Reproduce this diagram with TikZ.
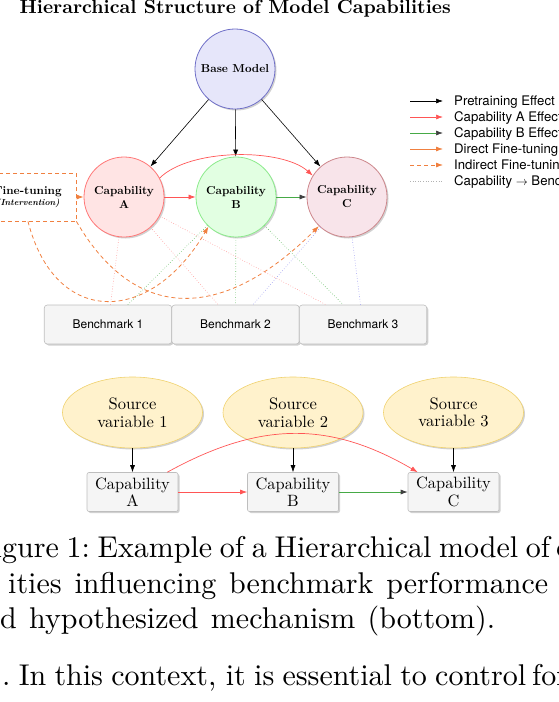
\documentclass[tikz,border=0pt]{standalone}
\usepackage{fontspec}
\setmainfont{lmroman10-regular.otf}[BoldFont=lmroman10-bold.otf,ItalicFont=lmroman10-italic.otf,BoldItalicFont=lmroman10-bolditalic.otf]
\setsansfont{TeX Gyre Heros}
\usetikzlibrary{arrows.meta,shadows,shapes.geometric,calc}
\definecolor{basefill}{RGB}{230,230,250}
\definecolor{basedraw}{RGB}{112,112,200}
\definecolor{afill}{RGB}{255,228,228}
\definecolor{adraw}{RGB}{255,120,120}
\definecolor{bfill}{RGB}{226,255,226}
\definecolor{bdraw}{RGB}{140,235,140}
\definecolor{cfill}{RGB}{248,228,234}
\definecolor{cdraw}{RGB}{205,135,140}
\definecolor{redarr}{RGB}{255,85,85}
\definecolor{greenarr}{RGB}{70,170,70}
\definecolor{orangearr}{RGB}{240,128,64}
\definecolor{benchfill}{RGB}{245,245,245}
\definecolor{benchdraw}{RGB}{190,190,190}
\definecolor{srcfill}{RGB}{255,242,204}
\definecolor{srcdraw}{RGB}{240,210,110}
\definecolor{dotA}{RGB}{255,150,150}
\definecolor{dotB}{RGB}{100,190,100}
\definecolor{dotC}{RGB}{150,150,240}
\begin{document}
\begin{tikzpicture}[x=1pt,y=-1pt,
  shadowed/.style={drop shadow={shadow xshift=1.5pt,shadow yshift=-1.5pt,opacity=0.3,fill=black!60}},
  capnode/.style={circle,minimum size=80pt,inner sep=0pt,line width=0.8pt,align=center,
    font=\fontsize{11.5}{14}\selectfont\bfseries,shadowed},
  bench/.style={rectangle,rounded corners=3pt,minimum width=127.5pt,minimum height=39pt,inner sep=0pt,
    fill=benchfill,draw=benchdraw,line width=0.6pt,font=\sffamily\fontsize{12}{14}\selectfont,shadowed},
  src/.style={ellipse,minimum width=140pt,minimum height=71pt,inner sep=0pt,fill=srcfill,draw=srcdraw,
    line width=0.6pt,align=center,font=\fontsize{16.5}{17.7}\selectfont,shadowed},
  capbox/.style={rectangle,rounded corners=2pt,minimum width=91pt,minimum height=39pt,inner sep=0pt,
    fill=benchfill,draw=benchdraw,line width=0.6pt,align=center,font=\fontsize{16.4}{17.4}\selectfont,shadowed},
  pre/.style={-{Latex[length=7pt,width=5pt]},draw=black,line width=0.6pt},
  reda/.style={-{Latex[length=7pt,width=5pt]},draw=redarr,line width=0.7pt},
  greena/.style={-{Latex[length=7pt,width=5pt,color=black!75]},draw=greenarr,line width=0.7pt},
  orangea/.style={-{Latex[length=7pt,width=5pt]},draw=orangearr,line width=0.8pt},
  orangedash/.style={orangea,dash pattern=on 4pt off 3pt},
  dotl/.style={dotted,line width=0.6pt},
  legtext/.style={anchor=base west,inner sep=0pt,font=\sffamily\fontsize{13.2}{15}\selectfont},
  captext/.style={anchor=base west,inner sep=0pt,font=\fontsize{30}{35}\selectfont}
]
\useasboundingbox (0,0) rectangle (559,702);

% title
\node[anchor=base west,inner sep=0pt,font=\fontsize{19.2}{22}\selectfont\bfseries] (title) at (19.5,13.5)
  {Hierarchical Structure of Model Capabilities};

% benchmarks
\node[bench] (b1) at (108,324.5) {Benchmark 1};
\node[bench] (b2) at (235.5,324.5) {Benchmark 2};
\node[bench] (b3) at (363,324.5) {Benchmark 3};

% capability nodes
\node[capnode,fill=basefill,draw=basedraw] (base) at (235,69) {Base Model};
\node[capnode,fill=afill,draw=adraw] (A) at (124,197) {Capability\\A};
\node[capnode,fill=bfill,draw=bdraw] (B) at (236,197) {Capability\\B};
\node[capnode,fill=cfill,draw=cdraw] (C) at (347,197) {Capability\\C};

% fine-tuning
\node[draw=orangearr,dash pattern=on 4pt off 3pt,line width=0.8pt,minimum width=96pt,minimum height=48pt,
  inner sep=0pt,align=center,font=\fontsize{11.5}{11}\selectfont\bfseries] (ft) at (28,197)
  {Fine-tuning\\{\fontsize{8.8}{11}\selectfont\itshape (Intervention)}};

% capability -> benchmark
\draw[dotl,draw=dotA] (A) -- (b1);
\draw[dotl,draw=dotA] (A) -- (b2);
\draw[dotl,draw=dotA] (A) -- (b3);
\draw[dotl,draw=dotB] (B) -- (b1);
\draw[dotl,draw=dotB] (B) -- (b2);
\draw[dotl,draw=dotB] (B) -- (b3);
\draw[dotl,draw=dotC] (C) -- (b2);
\draw[dotl,draw=dotC] (C) -- (b3);

% pretraining
\draw[pre] (base) -- (A);
\draw[pre] (base) -- (B);
\draw[pre] (base) -- (C);

% capability effects
\draw[reda] (A) -- (B);
\draw[greena] (B) -- (C);
\draw[reda] (A.28) .. controls (190,148) and (282,148) .. (C.148);

% fine-tuning effects
\draw[orangea] (ft) -- (A);
\draw[orangedash] (ft.south) .. controls (55,327) and (150,326) .. (B.227);
\draw[orangedash] (ft.south east) .. controls (139,329) and (229,316) .. (C.226);

% legend
\coordinate (l1s) at (410,101); \coordinate (l1e) at (443,101);
\coordinate (l2s) at (410,117); \coordinate (l2e) at (443,117);
\coordinate (l3s) at (410,133); \coordinate (l3e) at (443,133);
\coordinate (l4s) at (410,149); \coordinate (l4e) at (443,149);
\coordinate (l5s) at (410,165); \coordinate (l5e) at (443,165);
\coordinate (l6s) at (410,181); \coordinate (l6e) at (443,181);
\draw[pre] (l1s) -- (l1e);
\draw[reda] (l2s) -- (l2e);
\draw[greena] (l3s) -- (l3e);
\draw[orangea] (l4s) -- (l4e);
\draw[orangedash] (l5s) -- (l5e);
\draw[dotl,draw=black!30] (l6s) -- (l6e);
\node[legtext] (t1) at (454,105.7) {Pretraining Effect};
\node[legtext] (t2) at (454,121.7) {Capability A Effect};
\node[legtext] (t3) at (454,137.7) {Capability B Effect};
\node[legtext] (t4) at (454,153.7) {Direct Fine-tuning};
\node[legtext] (t5) at (454,169.7) {Indirect Fine-tuning};
\node[legtext] (t6) at (454,185.7) {Capability $\rightarrow$ Benchmark};

% bottom mechanism
\node[src] (s1) at (132.5,412.5) {Source\\variable 1};
\node[src] (s2) at (293,412.5) {Source\\variable 2};
\node[src] (s3) at (453.5,412.5) {Source\\variable 3};
\node[capbox] (ca) at (132.5,492) {Capability\\A};
\node[capbox] (cb) at (293,492) {Capability\\B};
\node[capbox] (cc) at (453.5,492) {Capability\\C};
\draw[pre] (s1) -- (ca);
\draw[pre] (s2) -- (cb);
\draw[pre] (s3) -- (cc);
\draw[reda] (ca) -- (cb);
\draw[greena] (cb) -- (cc);
\draw[reda] ([xshift=-11pt]ca.north east) .. controls (260,421) and (330,421) .. ([xshift=10pt]cc.north west);

% caption and text
\node[captext] (cap1) at (2,557)
  {\llap{Fi}\hbox to 548pt{\spaceskip=3pt plus 30pt\xspaceskip=3pt plus 30pt\relax gure 1: Example of a Hierarchical model of}\hspace{6pt}capa-};
\node[captext] (cap2) at (8,593)
  {\hbox to 540pt{\spaceskip=3pt plus 30pt\relax ities influencing benchmark performance}};
\node[captext] (cap3) at (0,628)
  {\llap{an}\hbox to 495pt{\spaceskip=8pt plus 30pt\relax d hypothesized mechanism (bottom).}};
\node[captext] (cap4) at (2,685)
  {\hbox to 524pt{\spaceskip=3pt plus 30pt\xspaceskip=3pt plus 30pt\relax . In this context, it is essential to control}\hspace{6pt}for};
\end{tikzpicture}
\end{document}
